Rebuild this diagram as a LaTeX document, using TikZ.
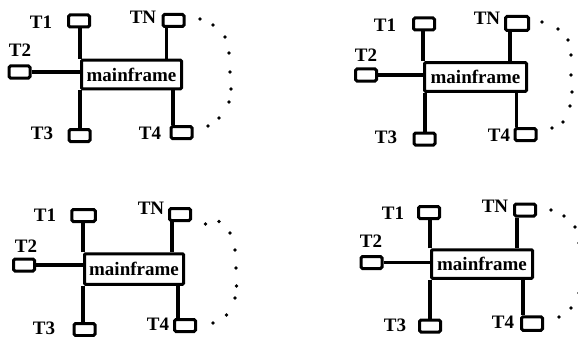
\documentclass[tikz,border=0pt]{standalone}
\usepackage{fontspec}
\setmainfont{Liberation Serif}
\begin{document}
\begin{tikzpicture}[x=1pt,y=-1pt,
  term/.style={draw, line width=3pt, rounded corners=1.5pt, inner sep=0pt,
               minimum width=21pt, minimum height=12pt},
  host/.style={draw, line width=3pt, rounded corners=1pt, inner sep=0pt,
               minimum width=100pt, minimum height=28.5pt,
               font=\fontsize{19}{19}\selectfont\bfseries},
  lbl/.style={inner sep=0pt, font=\fontsize{19}{19}\selectfont\bfseries},
  link/.style={line width=3.3pt},
  dot/.style={fill=black}]
\clip (0,0) rectangle (578,337);

% ---------- top left ----------
\node[host] (mfA) at (131.5,74.5) {mainframe};
\node[term] (aT1) at (79,21) {};
\node[term] (aTN) at (173.5,20.5) {};
\node[term] (aT2) at (19.5,72) {};
\node[term] (aT3) at (79.5,135.5) {};
\node[term] (aT4) at (181.5,132.5) {};
\node[lbl] (aL1) at (41,22) {T1};
\node[lbl] (aLN) at (143,17) {TN};
\node[lbl] (aL2) at (20,50) {T2};
\node[lbl] (aL3) at (42,133) {T3};
\node[lbl] (aL4) at (150,133) {T4};
\draw[link] (mfA.north west) -- (mfA.north west |- aT1.south);
\draw[link] (mfA.south west) -- (mfA.south west |- aT3.north);
\draw[link] (aT2.east) -- (aT2.east -| mfA.west);
\draw[link] ([xshift=-7pt]aTN.south) -- ([xshift=-7pt]aTN.south |- mfA.north);
\draw[link] ([xshift=-8.5pt]aT4.north) -- ([xshift=-8.5pt]aT4.north |- mfA.south);
\foreach \p in {(200,19),(213,25),(225,37),(229,53),(230,72),(231,89),(229,102),(219,118),(208,126)}
  \fill[dot] \p circle (1.8pt);

% ---------- top right ----------
\node[host, minimum width=102pt] (mfB) at (475.5,77) {mainframe};
\node[term] (bT1) at (424,24) {};
\node[term, minimum width=23pt, minimum height=14pt] (bTN) at (517,23.5) {};
\node[term] (bT2) at (366,75) {};
\node[term] (bT3) at (424.5,139) {};
\node[term] (bT4) at (525.5,134.5) {};
\node[lbl] (bL1) at (385,25) {T1};
\node[lbl] (bLN) at (487,18) {TN};
\node[lbl] (bL2) at (366,55) {T2};
\node[lbl] (bL3) at (386,137) {T3};
\node[lbl] (bL4) at (499,135) {T4};
\draw[link] (mfB.north west) -- (mfB.north west |- bT1.south);
\draw[link] ([xshift=2pt]mfB.south west) -- ([xshift=2pt]mfB.south west |- bT3.north);
\draw[link] (bT2.east) -- (bT2.east -| mfB.west);
\draw[link] ([xshift=-7pt]bTN.south) -- ([xshift=-7pt]bTN.south |- mfB.north);
\draw[link] ([xshift=-9pt]bT4.north) -- ([xshift=-9pt]bT4.north |- mfB.south);
\foreach \p in {(542,22),(558,29),(568,40),(571,55),(571,75),(572,92),(570,106),(563,122),(552,128)}
  \fill[dot] \p circle (1.8pt);

% ---------- bottom left ----------
\node[host, minimum width=99pt, minimum height=30.5pt] (mfC) at (134,269) {mainframe};
\node[term, minimum width=23.5pt] (cT1) at (83.5,215.5) {};
\node[term] (cTN) at (180,214.5) {};
\node[term] (cT2) at (24,265) {};
\node[term] (cT3) at (84.5,329.5) {};
\node[term] (cT4) at (185,325.5) {};
\node[lbl] (cL1) at (45,215) {T1};
\node[lbl] (cLN) at (151,208) {TN};
\node[lbl] (cL2) at (26,246) {T2};
\node[lbl] (cL3) at (44,328) {T3};
\node[lbl] (cL4) at (158,324) {T4};
\draw[link] (mfC.north west) -- (mfC.north west |- cT1.south);
\draw[link] (mfC.south west) -- (mfC.south west |- cT3.north);
\draw[link] (cT2.east) -- (cT2.east -| mfC.west);
\draw[link] ([xshift=-8pt]cTN.south) -- ([xshift=-8pt]cTN.south |- mfC.north);
\draw[link] ([xshift=-7pt]cT4.north) -- ([xshift=-7pt]cT4.north |- mfC.south);
\foreach \p in {(205.5,224),(219,221.5),(230,233),(235,250),(236,268),(236.5,286),(235,298),(226.5,315),(213,323)}
  \fill[dot] \p circle (1.8pt);

% ---------- bottom right ----------
\node[host, minimum width=101pt] (mfD) at (482,264) {mainframe};
\node[term] (dT1) at (429,212.5) {};
\node[term] (dTN) at (525,210) {};
\node[term] (dT2) at (371.5,262.5) {};
\node[term] (dT3) at (430,326) {};
\node[term, minimum height=13.5pt] (dT4) at (532,323.5) {};
\node[lbl] (dL1) at (393,213) {T1};
\node[lbl] (dLN) at (495,206) {TN};
\node[lbl] (dL2) at (371,241) {T2};
\node[lbl] (dL3) at (395,325) {T3};
\node[lbl] (dL4) at (503,322) {T4};
\draw[link] (mfD.north west) -- (mfD.north west |- dT1.south);
\draw[link] (mfD.south west) -- (mfD.south west |- dT3.north);
\draw[link] (dT2.east) -- (dT2.east -| mfD.west);
\draw[link] ([xshift=-8pt]dTN.south) -- ([xshift=-8pt]dTN.south |- mfD.north);
\draw[link] ([xshift=-9pt]dT4.north) -- ([xshift=-9pt]dT4.north |- mfD.south);
\foreach \p in {(551,210),(564,216),(575,227),(579,243),(582,260),(582,277),(579,293),(571,308),(559,317)}
  \fill[dot] \p circle (1.8pt);
\end{tikzpicture}
\end{document}
